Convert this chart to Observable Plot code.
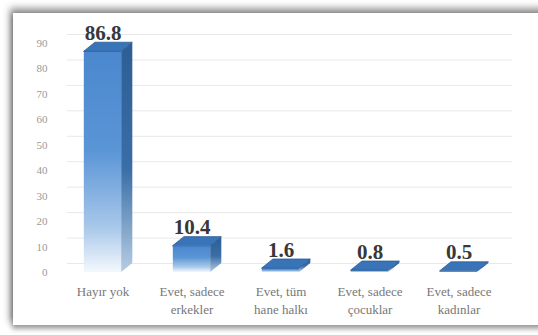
<!DOCTYPE html>
<html>
<head>
<meta charset="utf-8">
<script src="https://cdn.jsdelivr.net/npm/d3@7"></script>
<script src="https://cdn.jsdelivr.net/npm/@observablehq/plot@0.6"></script>
<style>
  html, body { margin: 0; padding: 0; background: #fff; }
  #wrap { position: relative; width: 538px; height: 335px; overflow: hidden; }
  #frame { position: absolute; left: 13px; top: 13px; width: 560px; height: 312px;
           background: #fff; box-shadow: -2px -4px 7px 1px rgba(0,0,0,0.42), 0 3px 5px 1px rgba(0,0,0,0.35); }
  #chart { position: absolute; left: 0; top: 0; }
  #chart svg, #chart svg text { font-family: "Liberation Serif", "Times New Roman", Times, Tinos, "DejaVu Serif", "Noto Serif", serif !important; }
</style>
</head>
<body>
<div id="wrap"><div id="frame"></div><div id="chart"></div></div>
<script>
const categories = ["Hayır yok", "Evet, sadece\nerkekler", "Evet, tüm\nhane halkı", "Evet, sadece\nçocuklar", "Evet, sadece\nkadınlar"];
const values = [86.8, 10.4, 1.6, 0.8, 0.5];
const valueLabels = ["86.8", "10.4", "1.6", "0.8", "0.5"];
const yTicks = [0, 10, 20, 30, 40, 50, 60, 70, 80, 90];

// 3D geometry (in data units)
const HW = 0.21;   // half width of front face
const DX = 0.125;  // depth offset in x
const DY = 3.5;    // depth offset in y

const bars = values.map((v, i) => ({i, v, cat: categories[i], lab: valueLabels[i]}));
const sideRows = bars.flatMap(d => [
  {i: d.i, x: d.i + HW, y1: 0, y2: d.v},
  {i: d.i, x: d.i + HW + DX, y1: DY, y2: d.v + DY}
]);
const topRows = bars.flatMap(d => [
  {i: d.i, y: d.v, x1: d.i - HW, x2: d.i + HW},
  {i: d.i, y: d.v + DY, x1: d.i - HW + DX, x2: d.i + HW + DX}
]);

const chart = Plot.plot({
  width: 538,
  height: 335,
  marginLeft: 58,
  marginRight: 35,
  marginTop: 43,
  marginBottom: 63,
  style: {fontSize: "11px", color: "#999999", background: "transparent"},
  x: {domain: [-0.5, 4.5], axis: null},
  y: {domain: [0, 90], ticks: yTicks, tickSize: 0, tickPadding: 11, label: null, tickFormat: d => String(d)},
  marks: [
    Plot.ruleY(yTicks, {dx: 9, dy: -9, stroke: "#e8e8e8", strokeWidth: 1}),
    Plot.rect(bars, {x1: d => d.i - HW, x2: d => d.i + HW, y1: 0, y2: "v", fill: "url(#gFront)"}),
    Plot.areaY(sideRows, {x: "x", y1: "y1", y2: "y2", z: "i", fill: "url(#gSide)"}),
    Plot.areaX(topRows, {y: "y", x1: "x1", x2: "x2", z: "i", fill: "#3a74b8", stroke: "#2a5a90", strokeWidth: 0.8}),
    Plot.text(bars, {x: "i", y: d => d.v + DY, text: "lab", dy: -3, lineAnchor: "bottom",
      fontSize: 21, fontWeight: "bold", fill: "#383838"}),
    Plot.text(bars, {x: "i", y: 0, text: "cat", dy: 11, lineAnchor: "top", lineHeight: 1.35,
      fontSize: 13, fill: "#777777"})
  ]
});

const defs = `
<defs>
  <linearGradient id="gFront" x1="0" y1="0" x2="0" y2="1">
    <stop offset="0" stop-color="#4a87cd"/>
    <stop offset="0.45" stop-color="#5a95d6"/>
    <stop offset="0.8" stop-color="#a9c8ea"/>
    <stop offset="1" stop-color="#f4f8fd"/>
  </linearGradient>
  <linearGradient id="gSide" x1="0" y1="0" x2="0" y2="1">
    <stop offset="0" stop-color="#2d5e93"/>
    <stop offset="0.55" stop-color="#3a6ea6"/>
    <stop offset="1" stop-color="#b7cde4"/>
  </linearGradient>
</defs>`;
chart.insertAdjacentHTML("afterbegin", defs);
document.getElementById("chart").appendChild(chart);
</script>
</body>
</html>
